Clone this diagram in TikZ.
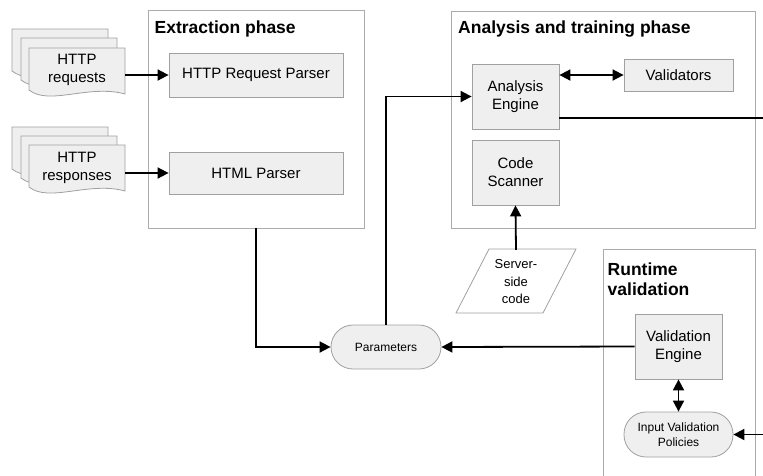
\documentclass[tikz,border=0pt]{standalone}
\usepackage{fontspec}
\setmainfont{Liberation Sans}
\usetikzlibrary{arrows.meta}
\definecolor{boxfill}{HTML}{EFEFEF}
\definecolor{boxline}{HTML}{A0A0A0}
\definecolor{grpline}{HTML}{ABABAB}
\begin{document}
\begin{tikzpicture}[x=1pt,y=-1pt,
  box/.style={draw=boxline, fill=boxfill, line width=0.8pt, inner sep=0pt, align=center, font=\fontsize{15}{18}\selectfont},
  pill/.style={box, rounded corners=22pt, font=\fontsize{12}{15}\selectfont},
  grp/.style={draw=grpline, fill=white, line width=0.8pt},
  ttl/.style={font=\fontsize{17.5}{20}\selectfont\bfseries, inner sep=0pt, anchor=north west, align=left},
  arr/.style={line width=1.8pt, -{Triangle[length=11pt,width=11pt]}},
  darr/.style={line width=1.8pt, {Triangle[length=11pt,width=11pt]}-{Triangle[length=11pt,width=11pt]}},
  ln/.style={line width=1.8pt},
  doc/.style={draw=boxline, fill=boxfill, line width=0.8pt},
  docpage/.pic={\draw[doc] (0,0) -- (96,0) -- (96,46) .. controls (60,36) and (20,58) .. (0,42) -- cycle;},
  plain/.style={inner sep=0pt, align=center}
]
\useasboundingbox (0,0) rectangle (763,475);
\begin{scope}
\clip (0,0) rectangle (763,475);

% groups
\draw[grp] (148,10) rectangle (364,228);
\node[plain, minimum width=216pt, minimum height=218pt] (ext) at (256,119) {};
\draw[grp] (451,11) rectangle (755,228);
\draw[grp] (603,490) -- (603,249) -- (755,249) -- (755,490);

\node[ttl] (t1) at (154.5,21) {Extraction phase};
\node[ttl] (t2) at (458,21) {Analysis and training phase};
\node[ttl] (t3) at (607.5,263) {Runtime\\validation};

% documents
\pic at (12,29) {docpage};
\pic at (21,38) {docpage};
\pic at (29,48) {docpage};
\node[plain, font=\fontsize{15}{18}\selectfont, minimum width=96pt, minimum height=44pt] (req) at (77,70) {HTTP\\requests};
\pic at (12,127) {docpage};
\pic at (21,136) {docpage};
\pic at (29,145) {docpage};
\node[plain, font=\fontsize{15}{18}\selectfont, minimum width=96pt, minimum height=44pt] (resp) at (77,168) {HTTP\\responses};

% extraction boxes
\node[box, minimum width=174pt, minimum height=44pt] (hrp) at (256,75) {HTTP Request Parser};
\node[box, minimum width=174pt, minimum height=42pt] (html) at (256,173) {HTML Parser};

% analysis boxes
\node[box, minimum width=87pt, minimum height=65pt] (ae) at (515.5,96.5) {Analysis\\Engine};
\node[box, minimum width=109pt, minimum height=32pt] (val) at (678.5,75) {Validators};
\node[box, minimum width=87pt, minimum height=65pt] (cs) at (515.5,172.5) {Code\\Scanner};

% server-side code
\draw[draw=boxline, fill=white, line width=0.8pt] (489,249) -- (576,249) -- (543,313) -- (456,313) -- cycle;
\node[plain, font=\fontsize{13}{17.5}\selectfont, minimum width=80pt, minimum height=64pt] (ssc) at (516,282) {Server-\\side\\code};

% parameters
\node[pill, minimum width=110pt, minimum height=44pt] (par) at (386,347) {Parameters};

% runtime
\node[box, minimum width=87pt, minimum height=65pt] (ve) at (678.5,346.5) {Validation\\Engine};
\node[pill, minimum width=109pt, minimum height=45pt] (ivp) at (678.5,434.5) {Input Validation\\Policies};

\coordinate (r1) at (763,118);
\coordinate (r2) at (763,434.5);

% connectors
\draw[arr] (req.east |- hrp.west) -- (hrp.west);
\draw[arr] (resp.east |- html.west) -- (html.west);
\draw[arr] (ext.south) |- (par.west);
\draw[arr] (par.north) |- (ae.west);
\draw[darr] (ae.east |- val.west) -- (val.west);
\draw[ln] (ae.east |- r1) -- (r1);
\draw[arr] (ssc.north) -- (cs.south);
\draw[arr] (ve.west) -- (par.east);
\draw[darr] (ve.south) -- (ivp.north);
\draw[arr] (r2) -- (ivp.east);
\end{scope}
\end{tikzpicture}
\end{document}
